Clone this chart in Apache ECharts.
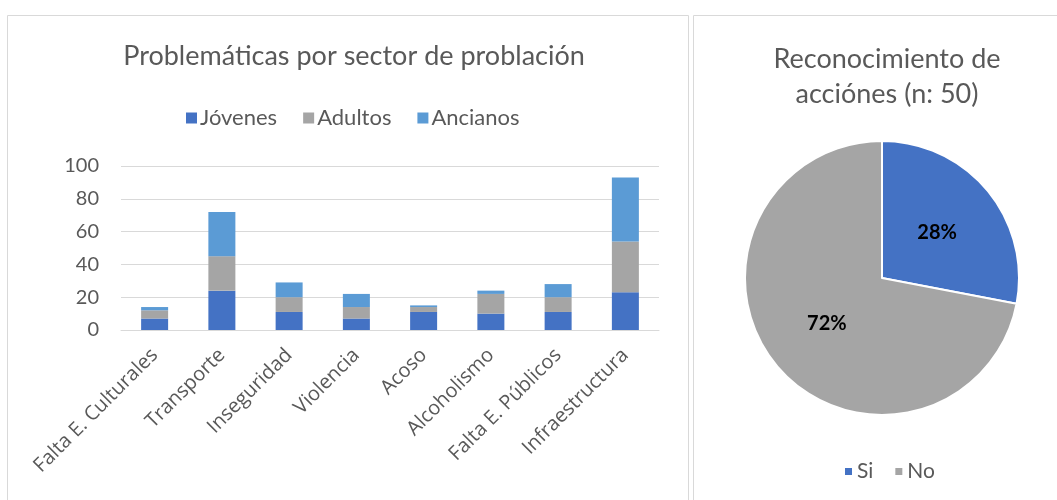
<!DOCTYPE html>
<html><head><meta charset="utf-8">
<script src="https://cdn.jsdelivr.net/npm/echarts@6/dist/echarts.min.js"></script>
<style>html,body{margin:0;padding:0;background:#fff}#c{width:1057px;height:500px}</style>
</head><body><div id="c"></div>
<script>
const categories = ['Falta E. Culturales','Transporte','Inseguridad','Violencia','Acoso','Alcoholismo','Falta E. Públicos','Infraestructura'];
const jovenes  = [7, 24, 11, 7, 11, 10, 11, 23];
const adultos  = [5, 21, 9, 7, 3, 12, 9, 31];
const ancianos = [2, 27, 9, 8, 1, 2, 8, 39];
const yTicks = [0, 20, 40, 60, 80, 100];
const pieLabels = ['Si', 'No'];
const pieValues = [14, 36];

const FONT = 'Lato, "Liberation Sans", sans-serif';
const XFONT = '"Open Sans", Lato, sans-serif';
const TXT = '#595959';
const chart = echarts.init(document.getElementById('c'), null, {renderer: 'canvas'});
chart.setOption({
  animation: false,
  textStyle: {fontFamily: FONT},
  graphic: [
    {type: 'rect', shape: {x: 7.5, y: 15.5, width: 681, height: 500}, style: {fill: 'none', stroke: '#d9d9d9', lineWidth: 1}, silent: true},
    {type: 'rect', shape: {x: 693.5, y: 15.5, width: 380, height: 500}, style: {fill: 'none', stroke: '#d9d9d9', lineWidth: 1}, silent: true}
  ],
  title: [
    {text: 'Problemáticas por sector de problación', left: 349, textAlign: 'center', top: 38,
     textStyle: {fontFamily: FONT, fontSize: 27, fontWeight: 'normal', color: TXT}},
    {text: 'Reconocimiento de\nacciónes (n: 50)', left: 882, textAlign: 'center', top: 37,
     textStyle: {fontFamily: FONT, fontSize: 27, fontWeight: 'normal', color: TXT, lineHeight: 35}}
  ],
  legend: [
    {data: ['Jóvenes', 'Adultos', 'Ancianos'], left: 181, top: 102, itemWidth: 11, itemHeight: 11, itemGap: 26,
     icon: 'rect', textStyle: {fontFamily: FONT, fontSize: 22, color: TXT, padding: [0, 0, 0, -2]}},
    {data: pieLabels, left: 838, top: 456, itemWidth: 9, itemHeight: 9, itemGap: 20,
     icon: 'rect', textStyle: {fontFamily: FONT, fontSize: 21, color: TXT, padding: [0, 0, 0, -1]}}
  ],
  grid: {left: 121, right: 1057 - 659, top: 166, bottom: 500 - 330, containLabel: false},
  xAxis: {
    type: 'category', data: categories,
    axisLine: {lineStyle: {color: '#d9d9d9', width: 1}},
    axisTick: {show: false},
    axisLabel: {rotate: 45, fontFamily: XFONT, fontSize: 20, color: TXT, margin: 22, interval: 0}
  },
  yAxis: {
    type: 'value', min: yTicks[0], max: yTicks[yTicks.length - 1], interval: 20,
    axisLine: {show: false}, axisTick: {show: false},
    splitLine: {lineStyle: {color: '#d9d9d9', width: 1}},
    axisLabel: {fontFamily: FONT, fontSize: 20, color: TXT, margin: 22}
  },
  series: [
    {name: 'Jóvenes', type: 'bar', stack: 's', data: jovenes, barWidth: 27, itemStyle: {color: '#4472C4'}},
    {name: 'Adultos', type: 'bar', stack: 's', data: adultos, barWidth: 27, itemStyle: {color: '#A5A5A5'}},
    {name: 'Ancianos', type: 'bar', stack: 's', data: ancianos, barWidth: 27, itemStyle: {color: '#5B9BD5'}},
    {name: 'pie', type: 'pie', center: [882, 278], radius: 137, startAngle: 90, clockwise: true,
     data: pieLabels.map((n, i) => ({name: n, value: pieValues[i], itemStyle: {color: ['#4472C4', '#A5A5A5'][i]}})),
     itemStyle: {borderColor: '#fff', borderWidth: 2},
     label: {show: true, position: 'inside', formatter: p => Math.round(p.percent) + '%',
             fontFamily: FONT, fontSize: 20, fontWeight: 'bold', color: '#000'},
     labelLine: {show: false}}
  ]
});
</script></body></html>
